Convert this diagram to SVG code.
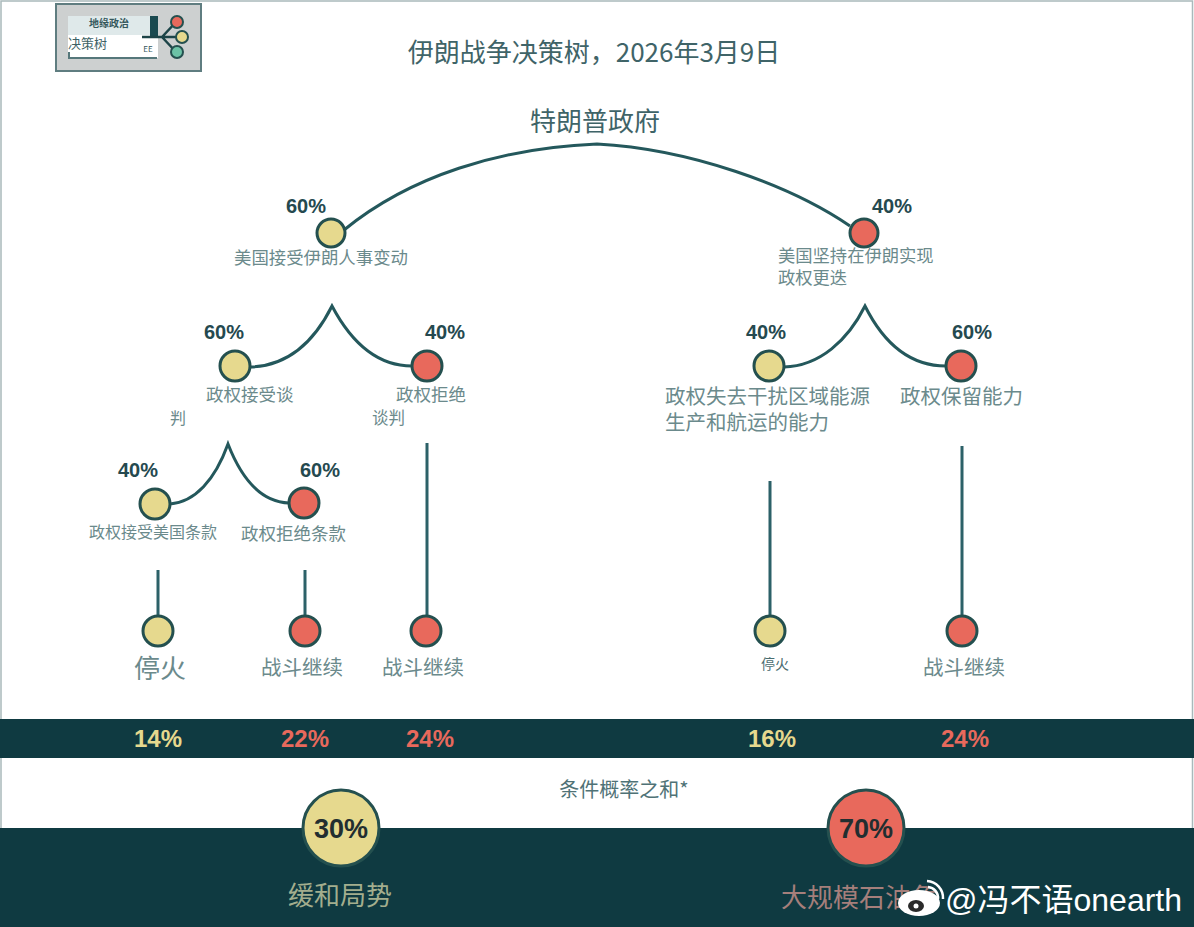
<svg xmlns="http://www.w3.org/2000/svg" width="1194" height="927" viewBox="0 0 1194 927">
<style>
text{font-family:"Noto Sans CJK SC","Liberation Sans",sans-serif}
.l{fill:#6b8a8c;text-anchor:start}
.m{text-anchor:middle}
.p{font-family:"Liberation Sans",sans-serif;font-weight:700;font-size:20px;fill:#25494f;text-anchor:middle}
.y{fill:#e6d98e;stroke:#24504f;stroke-width:3}
.r{fill:#e8695c;stroke:#24504f;stroke-width:3}
.c{fill:none;stroke:#24585c;stroke-width:3}
.v{fill:none;stroke:#2c6168;stroke-width:3}
.o{font-family:"Liberation Sans",sans-serif;font-weight:700;font-size:25px;text-anchor:middle}
</style>
<rect width="1194" height="927" fill="#fff"/>
<path d="M1 927V1H1192.500V927" fill="none" stroke="#a9b9bb" stroke-width="1.500"/>
<rect x="0" y="719" width="1194" height="39" fill="#0f3a41"/>
<rect x="0" y="828" width="1194" height="99" fill="#0f3a41"/>
<g id="logo">
<rect x="56" y="4" width="145" height="67" fill="#cdd0d0" stroke="#5f7d80" stroke-width="2"/>
<rect x="68" y="16" width="90" height="42" fill="#fff"/>
<rect x="68" y="16" width="90" height="19" fill="#dfe9ea"/>
<rect x="150" y="16" width="8" height="21" fill="#1a4a50"/>
<path d="M69 52V58H157" fill="none" stroke="#55777a" stroke-width="2"/>
<path d="M142 37H162L176 22M162 37H178M162 37L176 52" fill="none" stroke="#1c4448" stroke-width="2.500"/>
<circle cx="177" cy="22" r="6" fill="#e8695c" stroke="#24504f" stroke-width="2"/>
<circle cx="182" cy="37" r="6" fill="#e6d98e" stroke="#24504f" stroke-width="2"/>
<circle cx="177" cy="52" r="6" fill="#6cc2a6" stroke="#24504f" stroke-width="2"/>
<text x="109" y="27" class="m" font-size="10" font-weight="700" fill="#35585c">地缘政治</text>
<text x="68" y="48" font-size="13" fill="#3d6266">决策树</text>
<text x="148" y="52" class="m" font-size="8" fill="#35585c">EE</text>
</g>
<text id="title" x="594" y="62" class="m" font-size="26" fill="#3f6468">伊朗战争决策树，2026年3月9日</text>
<g id="connectors">
<path class="c" d="M344 230C410 176 500 148 597 144C690 149 790 185 850 226"/>
<path class="c" d="M250 367C290 366 315 340 332 306C350 340 375 366 412 366"/>
<path class="c" d="M784 367C820 366 848 340 865 306C882 340 908 366 946 366"/>
<path class="c" d="M170 504C195 502 215 480 228 444C242 480 262 502 289 503"/>
<path class="v" d="M158 570V616M305 570V616M427 443V616M770 481V616M962 446V616"/>
</g>
<g id="root"><text x="595" y="131" class="m" font-size="26" fill="#3f6468">特朗普政府</text></g>
<g id="n-us-accept"><circle class="y" cx="331" cy="233" r="14"/><text class="p" x="306" y="213">60%</text><text class="l" x="234" y="264" font-size="17.400">美国接受伊朗人事变动</text></g>
<g id="n-us-insist"><circle class="r" cx="864" cy="233" r="14"/><text class="p" x="892" y="213">40%</text><text class="l" x="778" y="262" font-size="17.300">美国坚持在伊朗实现</text><text class="l" x="778" y="284" font-size="17.300">政权更迭</text></g>
<g id="n-a1"><circle class="y" cx="235" cy="366" r="15"/><text class="p" x="224" y="339">60%</text><text class="l" x="206" y="401" font-size="17.500">政权接受谈</text><text class="l" x="170" y="424" font-size="16">判</text></g>
<g id="n-a2"><circle class="r" cx="427" cy="366" r="15"/><text class="p" x="445" y="339">40%</text><text class="l" x="396" y="401" font-size="17.500">政权拒绝</text><text class="l" x="372" y="424" font-size="16.500">谈判</text></g>
<g id="n-b1"><circle class="y" cx="769" cy="366" r="15"/><text class="p" x="766" y="339">40%</text><text class="l" x="665" y="404" font-size="20.500">政权失去干扰区域能源</text><text class="l" x="665" y="430" font-size="20.500">生产和航运的能力</text></g>
<g id="n-b2"><circle class="r" cx="961" cy="366" r="15"/><text class="p" x="972" y="339">60%</text><text class="l" x="900" y="404" font-size="20.500">政权保留能力</text></g>
<g id="n-c1"><circle class="y" cx="155" cy="504" r="15"/><text class="p" x="138" y="477">40%</text><text class="l" x="89" y="538" font-size="16">政权接受美国条款</text></g>
<g id="n-c2"><circle class="r" cx="304" cy="503" r="15"/><text class="p" x="320" y="477">60%</text><text class="l" x="241" y="540" font-size="17.500">政权拒绝条款</text></g>
<g id="o1"><circle class="y" cx="158" cy="631" r="15"/><text x="160" y="678" class="m" font-size="26" fill="#6b8a8c">停火</text><text class="p" x="158" y="747" style="fill:#e6d98e;font-size:24px">14%</text></g>
<g id="o2"><circle class="r" cx="305" cy="631" r="15"/><text x="302" y="675" class="m" font-size="20.500" fill="#6b8a8c">战斗继续</text><text class="p" x="305" y="747" style="fill:#e8695c;font-size:24px">22%</text></g>
<g id="o3"><circle class="r" cx="426" cy="631" r="15"/><text x="423" y="675" class="m" font-size="20.500" fill="#6b8a8c">战斗继续</text><text class="p" x="430" y="747" style="fill:#e8695c;font-size:24px">24%</text></g>
<g id="o4"><circle class="y" cx="770" cy="631" r="15"/><text x="775" y="669" class="m" font-size="14" fill="#4a6c70">停火</text><text class="p" x="772" y="747" style="fill:#e6d98e;font-size:24px">16%</text></g>
<g id="o5"><circle class="r" cx="962" cy="631" r="15"/><text x="964" y="675" class="m" font-size="20.500" fill="#6b8a8c">战斗继续</text><text class="p" x="965" y="747" style="fill:#e8695c;font-size:24px">24%</text></g>
<text id="sum" x="624" y="797" class="m" font-size="20" fill="#4f7276">条件概率之和*</text>
<g id="s1"><circle cx="341" cy="828" r="38" fill="#e6d98e" stroke="#24504f" stroke-width="3"/><text class="o" x="341" y="838" fill="#222e30" style="font-size:27px">30%</text><text x="340" y="905" class="m" font-size="26" fill="#a3ae8e">缓和局势</text></g>
<g id="s2"><circle cx="866" cy="828" r="38" fill="#e8695c" stroke="#24504f" stroke-width="3"/><text class="o" x="866" y="838" fill="#222e30" style="font-size:27px">70%</text><text x="859" y="907" class="m" font-size="26" fill="#a57f7b">大规模石油危</text></g>
<g id="wm">
<ellipse cx="919" cy="903" rx="21" ry="13" fill="#fff"/>
<ellipse cx="916" cy="906" rx="8" ry="6" fill="#2a2a2a"/>
<circle cx="916" cy="906" r="2.500" fill="#fff"/>
<path d="M928 887A11 11 0 0 1 938 899M927 881A17 17 0 0 1 943 899" fill="none" stroke="#fff" stroke-width="2.500"/>
<text x="945" y="911" font-size="32" fill="#fff" style='font-family:"Liberation Sans","Noto Sans CJK SC",sans-serif'>@冯不语onearth</text>
</g>
</svg>
